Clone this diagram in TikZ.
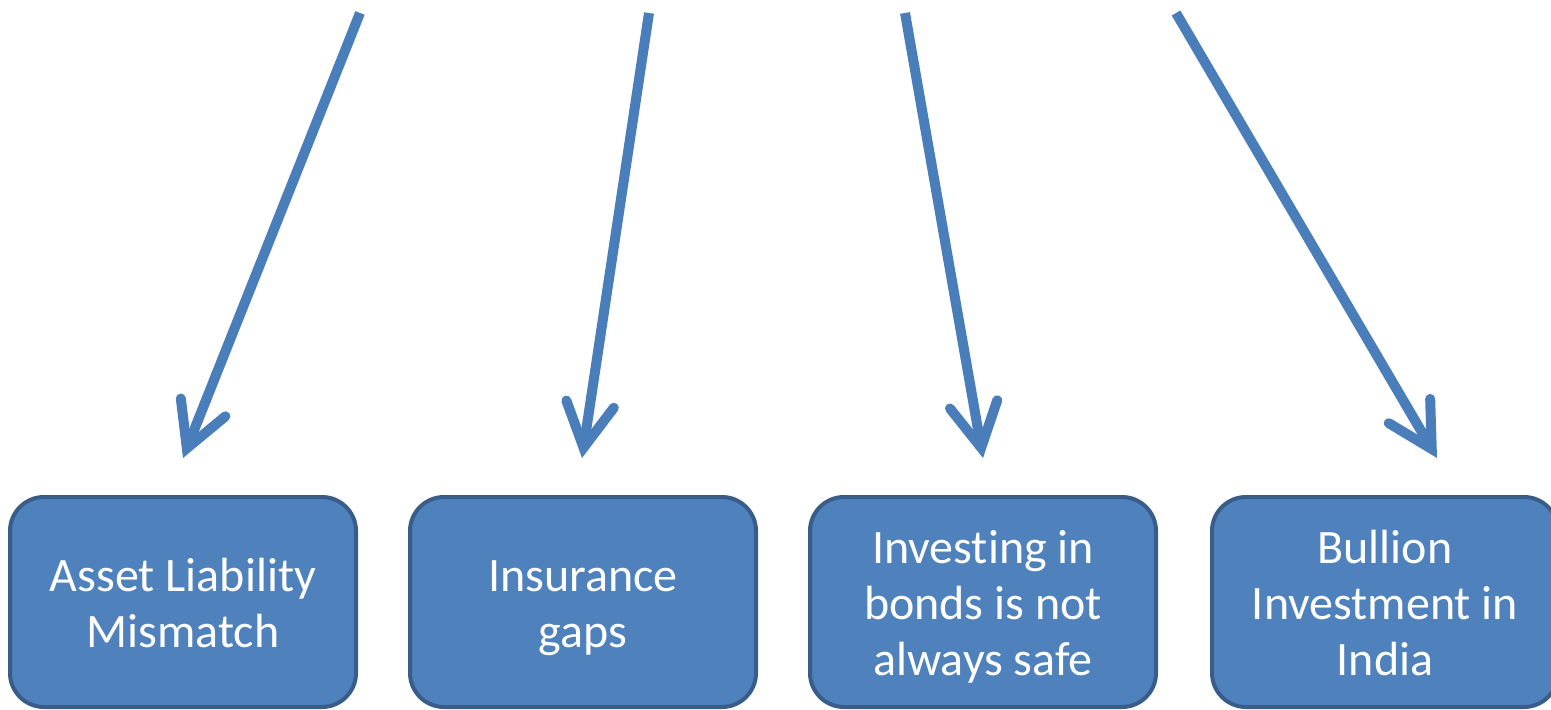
\documentclass[tikz,border=0pt]{standalone}
\usepackage{fontspec}
\setmainfont{Carlito}[Ligatures={NoCommon,NoContextual,NoRare}]
\usetikzlibrary{arrows.meta}
\definecolor{boxfill}{HTML}{4F81BD}
\definecolor{boxline}{HTML}{385D8A}
\definecolor{arrowcol}{HTML}{4A7EBB}
\tikzset{
  box/.style={draw=boxline, fill=boxfill, line width=2pt, rounded corners=17pt,
    minimum width=173pt, minimum height=105pt, inner sep=0pt},
  lbl/.style={inner sep=0pt, align=center, text=white,
    font=\fontsize{24}{28}\selectfont},
  arr/.style={draw=arrowcol, line width=5pt,
    -{Straight Barb[length=22pt, width=24pt, line cap=round, line join=miter]}}
}
\begin{document}
\begin{tikzpicture}[x=0.5pt, y=-0.5pt]
\useasboundingbox (0,0) rectangle (1551,710);
\clip (0,0) rectangle (1551,710);
\node[box] (b1) at (183,602) {};
\node[box] (b2) at (583,602) {};
\node[box] (b3) at (983,602) {};
\node[box] (b4) at (1385,602) {};
\node[lbl] (l1) at ([yshift=-3pt]b1.center) {\strut Asset Liability\\\strut Mismatch};
\node[lbl] (l2) at ([yshift=-3pt]b2.center) {\strut Insurance\\\strut gaps};
\node[lbl] (l3) at ([yshift=-3pt]b3.center) {\strut Invest\kern0pt ing in\\\strut bonds is not\\\strut always safe};
\node[lbl] (l4) at ([yshift=-3pt]b4.center) {\strut Bullion\\\strut Investment in\\\strut India};
\coordinate (s1) at (360,13);  \coordinate (t1) at (183,458);
\coordinate (s2) at (649,13);  \coordinate (t2) at (582,458);
\coordinate (s3) at (905,13);  \coordinate (t3) at (983,458);
\coordinate (s4) at (1176,13); \coordinate (t4) at (1437,458);
\draw[arr] (s1) -- (t1);
\draw[arr] (s2) -- (t2);
\draw[arr] (s3) -- (t3);
\draw[arr] (s4) -- (t4);
\end{tikzpicture}
\end{document}
